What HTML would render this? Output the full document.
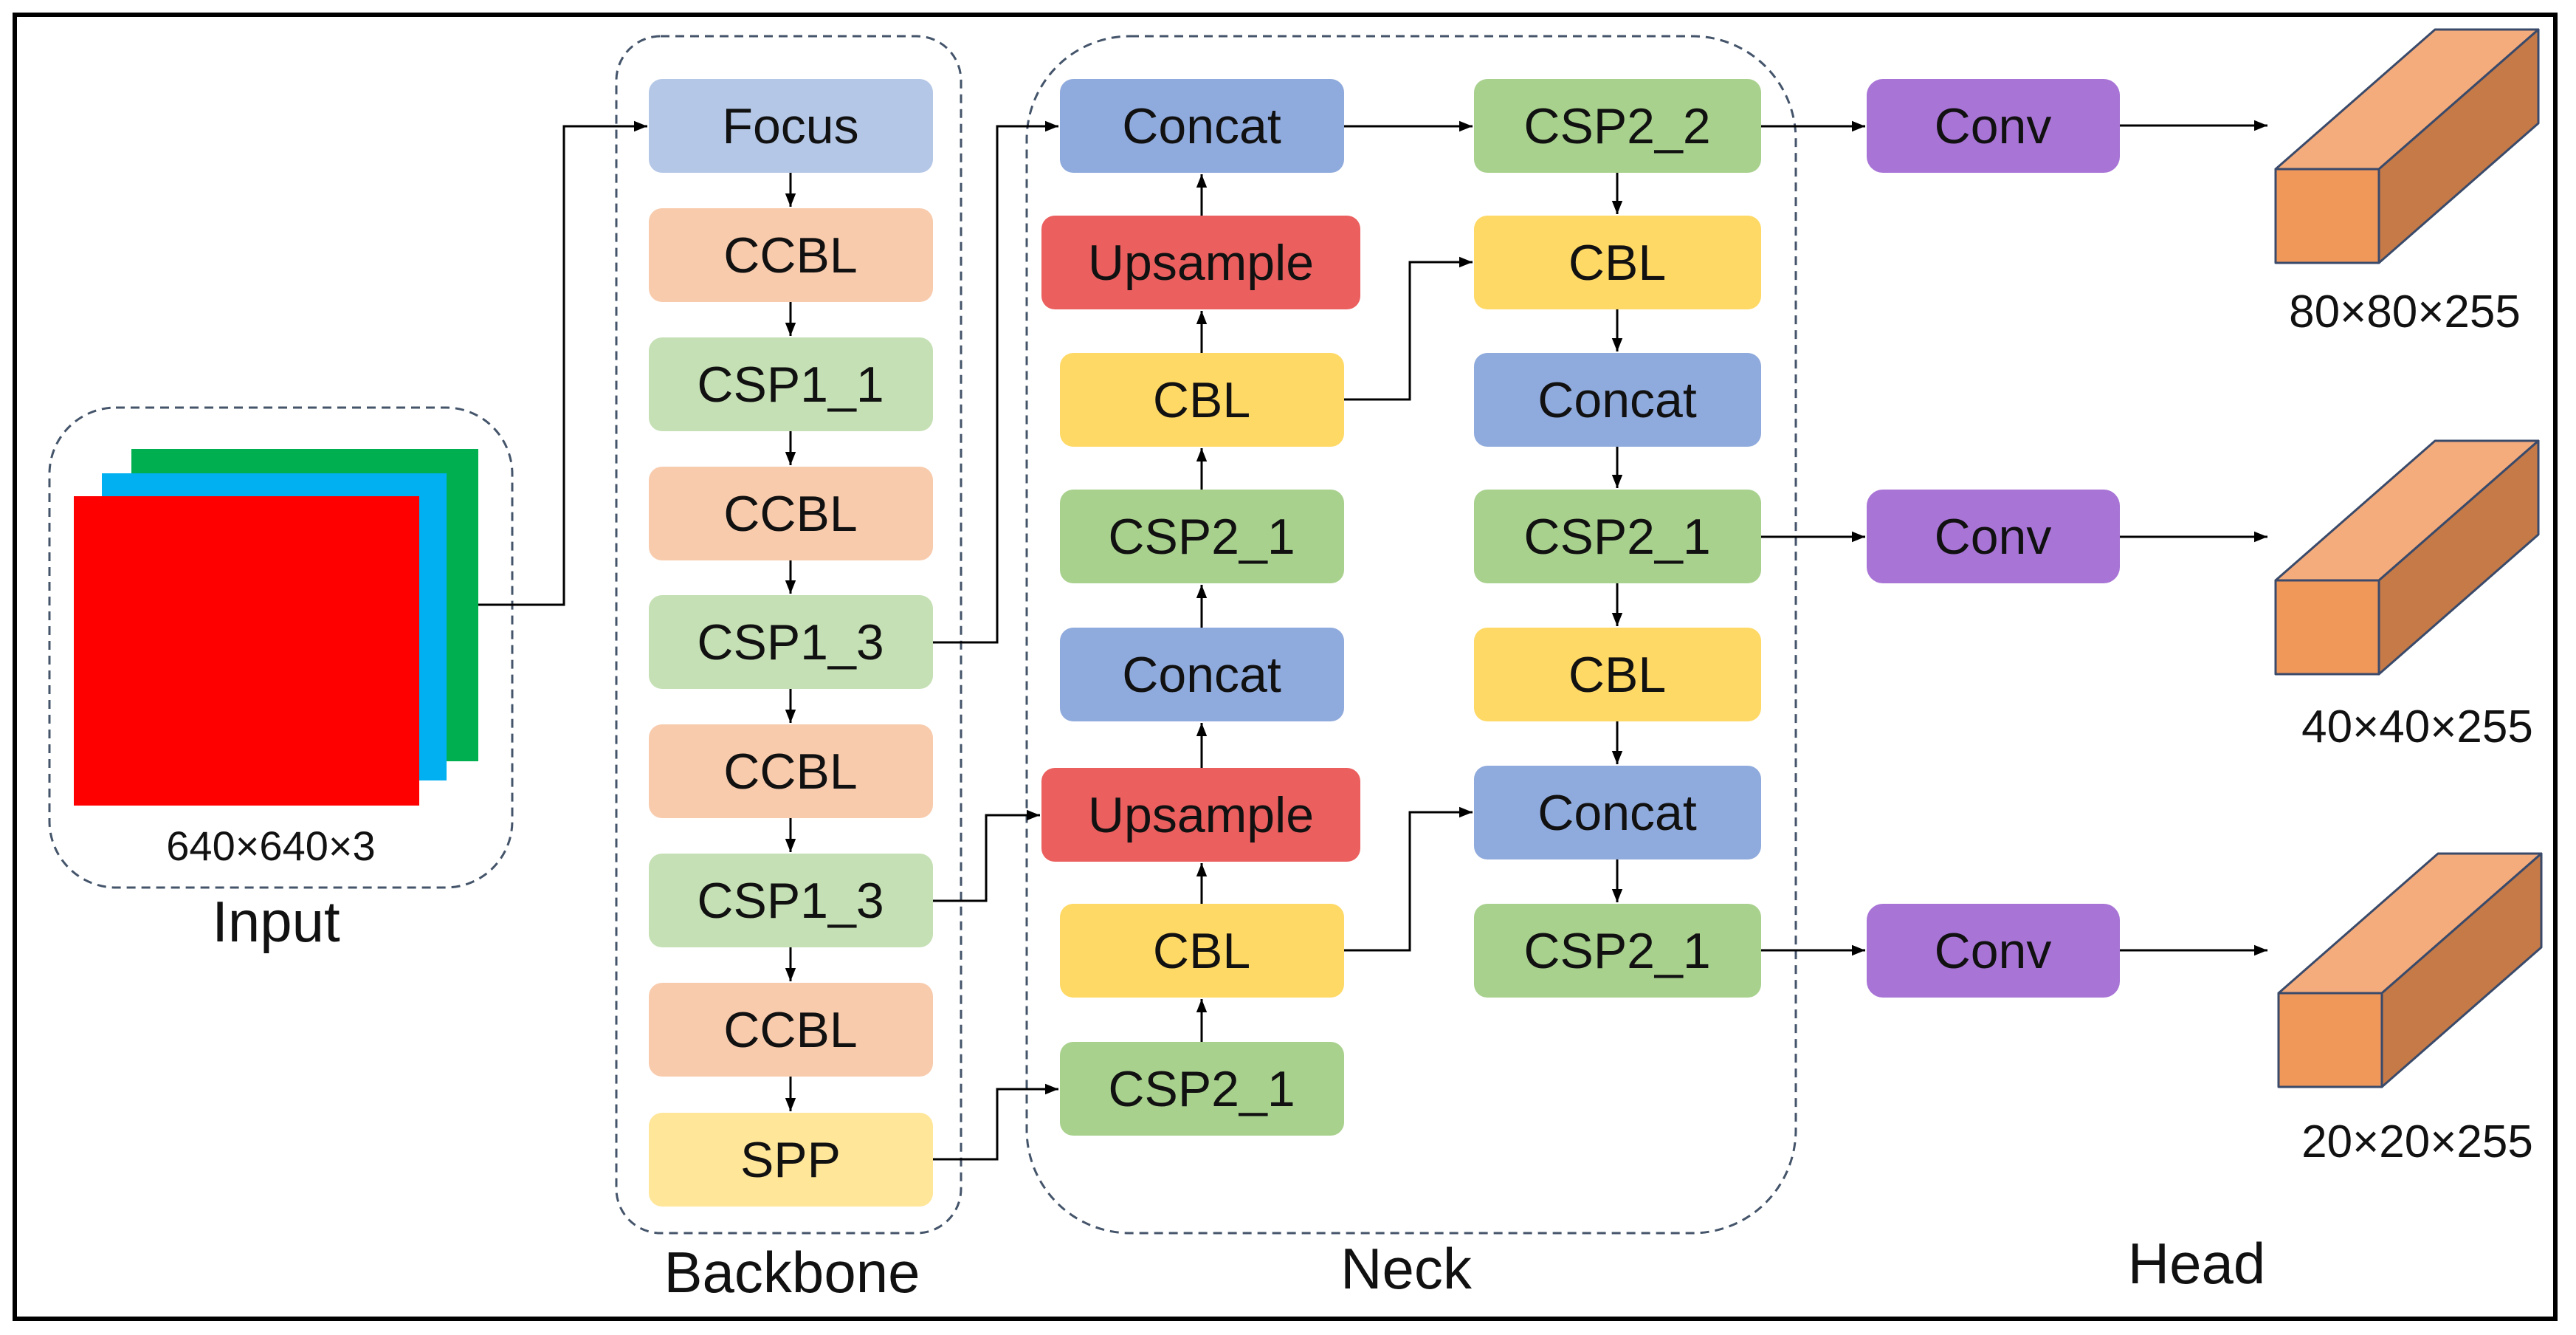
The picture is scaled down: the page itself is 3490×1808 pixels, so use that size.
<!DOCTYPE html>
<html><head><meta charset="utf-8"><style>
html,body{margin:0;padding:0;background:#fff}
svg{display:block}
text{font-family:"Liberation Sans","DejaVu Sans",sans-serif;fill:#111}
</style></head><body>
<svg width="3490" height="1808" viewBox="0 0 3490 1808" xmlns="http://www.w3.org/2000/svg">
<defs>
<marker id="b" viewBox="0 0 10 10" refX="10" refY="5" markerWidth="18" markerHeight="18" markerUnits="userSpaceOnUse" orient="auto"><path d="M0,1L10,5L0,9z" fill="#000"/></marker>
</defs>
<rect x="20" y="20" width="3442" height="1766" fill="#fff" stroke="#000" stroke-width="6"/>

<g fill="none" stroke="#44546a" stroke-width="3" stroke-dasharray="12,8">
<rect x="67" y="552" width="627" height="650" rx="90"/>
<rect x="835" y="49" width="467" height="1621" rx="60"/>
<rect x="1391" y="49" width="1042" height="1621" rx="140"/>
</g>

<rect x="178" y="608" width="470" height="423" fill="#00b050"/>
<rect x="138" y="641" width="467" height="416" fill="#00b0f0"/>
<rect x="100" y="672" width="468" height="419" fill="#ff0000"/>
<text x="367" y="1165" font-size="56" text-anchor="middle">640×640×3</text>
<text x="374" y="1275" font-size="78" text-anchor="middle">Input</text>

<g font-size="68" text-anchor="middle">
<rect x="879" y="107" width="385" height="127" rx="18" fill="#b4c7e7"/><text x="1071" y="194">Focus</text>
<rect x="879" y="282" width="385" height="127" rx="18" fill="#f8cbad"/><text x="1071" y="369">CCBL</text>
<rect x="879" y="457" width="385" height="127" rx="18" fill="#c5e0b4"/><text x="1071" y="544">CSP1_1</text>
<rect x="879" y="632" width="385" height="127" rx="18" fill="#f8cbad"/><text x="1071" y="719">CCBL</text>
<rect x="879" y="806" width="385" height="127" rx="18" fill="#c5e0b4"/><text x="1071" y="893">CSP1_3</text>
<rect x="879" y="981" width="385" height="127" rx="18" fill="#f8cbad"/><text x="1071" y="1068">CCBL</text>
<rect x="879" y="1156" width="385" height="127" rx="18" fill="#c5e0b4"/><text x="1071" y="1243">CSP1_3</text>
<rect x="879" y="1331" width="385" height="127" rx="18" fill="#f8cbad"/><text x="1071" y="1418">CCBL</text>
<rect x="879" y="1507" width="385" height="127" rx="18" fill="#ffe699"/><text x="1071" y="1594">SPP</text>
</g>
<text x="1073" y="1750" font-size="78" text-anchor="middle">Backbone</text>

<g font-size="68" text-anchor="middle">
<rect x="1436" y="107" width="385" height="127" rx="18" fill="#8faadc"/><text x="1628" y="194">Concat</text>
<rect x="1411" y="292" width="432" height="127" rx="18" fill="#eb5f5f"/><text x="1627" y="379">Upsample</text>
<rect x="1436" y="478" width="385" height="127" rx="18" fill="#ffd966"/><text x="1628" y="565">CBL</text>
<rect x="1436" y="663" width="385" height="127" rx="18" fill="#a9d18e"/><text x="1628" y="750">CSP2_1</text>
<rect x="1436" y="850" width="385" height="127" rx="18" fill="#8faadc"/><text x="1628" y="937">Concat</text>
<rect x="1411" y="1040" width="432" height="127" rx="18" fill="#eb5f5f"/><text x="1627" y="1127">Upsample</text>
<rect x="1436" y="1224" width="385" height="127" rx="18" fill="#ffd966"/><text x="1628" y="1311">CBL</text>
<rect x="1436" y="1411" width="385" height="127" rx="18" fill="#a9d18e"/><text x="1628" y="1498">CSP2_1</text>
<rect x="1997" y="107" width="389" height="127" rx="18" fill="#a9d18e"/><text x="2191" y="194">CSP2_2</text>
<rect x="1997" y="292" width="389" height="127" rx="18" fill="#ffd966"/><text x="2191" y="379">CBL</text>
<rect x="1997" y="478" width="389" height="127" rx="18" fill="#8faadc"/><text x="2191" y="565">Concat</text>
<rect x="1997" y="663" width="389" height="127" rx="18" fill="#a9d18e"/><text x="2191" y="750">CSP2_1</text>
<rect x="1997" y="850" width="389" height="127" rx="18" fill="#ffd966"/><text x="2191" y="937">CBL</text>
<rect x="1997" y="1037" width="389" height="127" rx="18" fill="#8faadc"/><text x="2191" y="1124">Concat</text>
<rect x="1997" y="1224" width="389" height="127" rx="18" fill="#a9d18e"/><text x="2191" y="1311">CSP2_1</text>
<rect x="2529" y="107" width="343" height="127" rx="22" fill="#a874d6"/><text x="2700" y="194">Conv</text>
<rect x="2529" y="663" width="343" height="127" rx="22" fill="#a874d6"/><text x="2700" y="750">Conv</text>
<rect x="2529" y="1224" width="343" height="127" rx="22" fill="#a874d6"/><text x="2700" y="1311">Conv</text>
</g>
<text x="1905" y="1745" font-size="78" text-anchor="middle">Neck</text>
<text x="2976" y="1738" font-size="78" text-anchor="middle">Head</text>

<g fill="none" stroke="#000" stroke-width="3">
<path d="M648,819H764V171H877" marker-end="url(#b)"/>
<path d="M1264,870H1351V171H1434" marker-end="url(#b)"/>
<path d="M1264,1220H1336V1104H1409" marker-end="url(#b)"/>
<path d="M1264,1570H1351V1475H1434" marker-end="url(#b)"/>
<path d="M1821,171H1995" marker-end="url(#b)"/>
<path d="M1821,541H1910V355H1995" marker-end="url(#b)"/>
<path d="M1821,1287H1910V1100H1995" marker-end="url(#b)"/>
<path d="M2386,171H2527" marker-end="url(#b)"/>
<path d="M2386,727H2527" marker-end="url(#b)"/>
<path d="M2386,1287H2527" marker-end="url(#b)"/>
<path d="M2872,170H3072" marker-end="url(#b)"/>
<path d="M2872,727H3072" marker-end="url(#b)"/>
<path d="M2872,1287H3072" marker-end="url(#b)"/>
<path d="M1071,234V280" marker-end="url(#b)"/>
<path d="M1071,409V455" marker-end="url(#b)"/>
<path d="M1071,584V630" marker-end="url(#b)"/>
<path d="M1071,759V804" marker-end="url(#b)"/>
<path d="M1071,933V979" marker-end="url(#b)"/>
<path d="M1071,1108V1154" marker-end="url(#b)"/>
<path d="M1071,1283V1329" marker-end="url(#b)"/>
<path d="M1071,1458V1505" marker-end="url(#b)"/>
<path d="M1628,1411V1353" marker-end="url(#b)"/>
<path d="M1628,1224V1169" marker-end="url(#b)"/>
<path d="M1628,1040V979" marker-end="url(#b)"/>
<path d="M1628,850V792" marker-end="url(#b)"/>
<path d="M1628,663V607" marker-end="url(#b)"/>
<path d="M1628,478V421" marker-end="url(#b)"/>
<path d="M1628,292V236" marker-end="url(#b)"/>
<path d="M2191,234V290" marker-end="url(#b)"/>
<path d="M2191,419V476" marker-end="url(#b)"/>
<path d="M2191,605V661" marker-end="url(#b)"/>
<path d="M2191,790V848" marker-end="url(#b)"/>
<path d="M2191,977V1035" marker-end="url(#b)"/>
<path d="M2191,1164V1222" marker-end="url(#b)"/>
</g>

<g stroke="#3a4a6a" stroke-width="3" stroke-linejoin="round">
<g>
<polygon points="3083,229 3223,229 3439,40 3299,40" fill="#f4ac7c"/>
<polygon points="3223,229 3439,40 3439,167 3223,356" fill="#c57a48"/>
<rect x="3083" y="229" width="140" height="127" fill="#f0975a"/>
</g>
<g transform="translate(0,557)">
<polygon points="3083,229 3223,229 3439,40 3299,40" fill="#f4ac7c"/>
<polygon points="3223,229 3439,40 3439,167 3223,356" fill="#c57a48"/>
<rect x="3083" y="229" width="140" height="127" fill="#f0975a"/>
</g>
<g transform="translate(4,1116)">
<polygon points="3083,229 3223,229 3439,40 3299,40" fill="#f4ac7c"/>
<polygon points="3223,229 3439,40 3439,167 3223,356" fill="#c57a48"/>
<rect x="3083" y="229" width="140" height="127" fill="#f0975a"/>
</g>
</g>
<g font-size="62" text-anchor="middle">
<text x="3258" y="443">80×80×255</text>
<text x="3275" y="1005">40×40×255</text>
<text x="3275" y="1567">20×20×255</text>
</g>
</svg>
</body></html>
